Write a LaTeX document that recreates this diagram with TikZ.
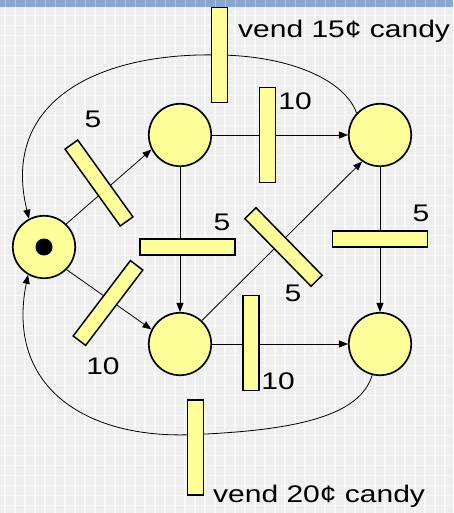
\documentclass[tikz,border=0pt]{standalone}
\usepackage{fontspec}
\setmainfont{Liberation Sans}[FakeStretch=1.25]
\usetikzlibrary{arrows.meta}
\definecolor{placefill}{HTML}{FFFF99}
\definecolor{paper}{HTML}{EEEEEE}
\definecolor{band}{HTML}{8AA6CE}
\pgfdeclarelayer{paperlayer}
\pgfdeclarelayer{edgelayer}
\pgfsetlayers{paperlayer,edgelayer,main}
\begin{document}
\begin{tikzpicture}[x=1pt,y=1pt,
  place/.style={circle,draw=black,line width=1.7pt,fill=placefill,minimum size=62.4pt,inner sep=0pt},
  trans/.style={rectangle,draw=black,line width=1.5pt,fill=placefill,minimum width=15.6pt,minimum height=94.6pt,inner sep=0pt},
  htrans/.style={trans,minimum width=94.6pt,minimum height=15.6pt},
  token/.style={circle,fill=black,minimum size=17pt,inner sep=0pt},
  weight/.style={inner sep=0pt,font=\fontsize{24}{28}\selectfont,text=black},
  arc/.style={line width=0.8pt,-{Triangle[length=9pt,width=7pt]}},
]
\useasboundingbox (0,0) rectangle (453,-513);

% paper with a faint grid and the blue band along the top
\begin{pgfonlayer}{paperlayer}
  \fill[paper] (0,0) rectangle (453,-513);
  \foreach \x in {0,10,...,450} {
    \draw[white,line width=1.2pt,opacity=0.6] (\x+5,0) -- (\x+5,-513);
  }
  \foreach \y in {0,10,...,510} {
    \draw[white,line width=0.8pt,opacity=0.5] (0,-\y-5) -- (453,-\y-5);
  }
  \fill[band] (0,0) rectangle (453,-7);
  \foreach \x in {0,10,...,450} {
    \draw[white,line width=0.6pt,opacity=0.35] (\x+5,0) -- (\x+5,-7);
  }
\end{pgfonlayer}

% places
\node[place] (p0) at (44,-247) {};
\node[token] (tok) at (p0.center) {};
\node[place] (p1) at (180,-135) {};
\node[place] (p2) at (380,-135) {};
\node[place] (p3) at (180,-344) {};
\node[place] (p4) at (380,-344) {};

% transitions
\node[trans] (t15) at (219.5,-55) {};
\node[trans] (t10a) at (267.5,-135) {};
\node[trans,rotate=35.7] (t5a) at (99,-183) {};
\node[htrans] (t5b) at (187.5,-247) {};
\node[trans,rotate=44.4] (t5c) at (283.5,-247) {};
\node[htrans] (t5d) at (380,-239) {};
\node[trans,rotate=-37.2] (t10b) at (108,-303) {};
\node[trans] (t10c) at (251,-343) {};
\node[trans] (t20) at (195.5,-447.5) {};
\coordinate (x20) at ([yshift=13pt]t20.center);

% weights and transition names
\node[weight] (w5a) at (93,-119) {5};
\node[weight] (w10a) at (295,-101.5) {10};
\node[weight] (w5b) at (222,-222) {5};
\node[weight] (w5c) at (293,-293) {5};
\node[weight] (w5d) at (421,-213) {5};
\node[weight] (w10b) at (103,-366) {10};
\node[weight] (w10c) at (278,-381.5) {10};
\node[weight,anchor=base west] (n15) at (238,-38) {vend 15¢ candy};
\node[weight,anchor=base west] (n20) at (213,-502) {vend 20¢ candy};

% arcs
\begin{pgfonlayer}{edgelayer}
  \draw[arc] (p0.46) -- (p1.207);
  \draw[arc] (p0.-45) -- (p3.153);
  \draw[arc] (p1) -- (p2);
  \draw[arc] (p1) -- (p3);
  \draw[arc] (p3.47) -- (p2.236);
  \draw[arc] (p2) -- (p4);
  \draw[arc] (p3) -- (p4);
  \draw[arc] (p2.137) .. controls (345,-80) and (290,-56) .. (t15.center)
             .. controls (100,-52) and (0,-100) .. (p0.118);
  \draw[arc] (p4.-104) .. controls (360,-415) and (300,-430) .. (x20)
             .. controls (90,-440) and (5,-390) .. (p0.-120);
\end{pgfonlayer}
\end{tikzpicture}
\end{document}
